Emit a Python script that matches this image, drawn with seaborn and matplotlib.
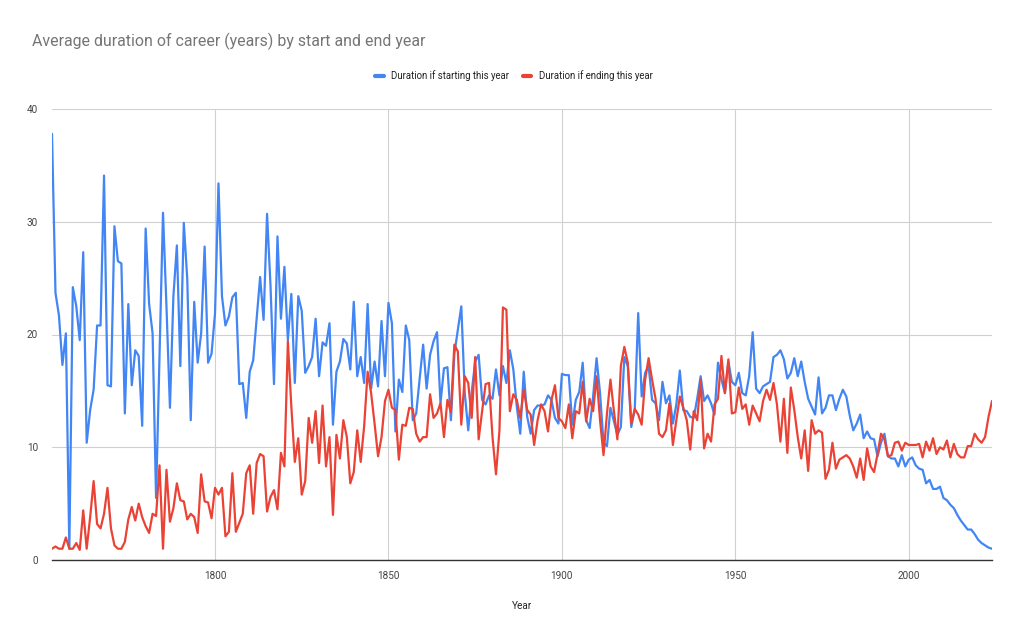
import matplotlib
matplotlib.use("Agg")
import matplotlib.pyplot as plt
import seaborn as sns
import pandas as pd

years = list(range(1753, 2025))

start_duration = [
    37.8, 23.7, 21.7, 17.3, 20.1, 1.0, 24.2, 22.5, 19.5, 27.3,
    10.4, 13.3, 15.1, 20.8, 20.8, 34.1, 15.5, 15.4, 29.6, 26.5,
    26.3, 13.0, 22.7, 15.5, 18.6, 18.1, 11.9, 29.4, 22.7, 20.1,
    5.5, 18.0, 30.8, 22.5, 13.5, 23.4, 27.9, 17.2, 29.9, 24.9,
    12.4, 22.9, 17.5, 20.1, 27.8, 17.5, 18.3, 21.9, 33.4, 23.4,
    20.8, 21.6, 23.3, 23.7, 15.6, 15.7, 12.6, 16.7, 17.7, 21.4,
    25.1, 21.3, 30.7, 24.3, 15.6, 28.7, 21.4, 26.0, 19.5, 23.6,
    15.7, 23.4, 22.1, 16.6, 17.2, 18.0, 21.4, 16.3, 19.3, 19.0,
    21.0, 12.0, 16.7, 17.6, 19.6, 19.2, 16.9, 22.9, 16.3, 18.0,
    15.7, 22.7, 15.2, 17.6, 15.4, 21.2, 16.3,
    22.8, 21.0, 11.4,
    16.0, 14.9, 20.8, 19.5, 12.4, 13.0, 16.1, 19.1, 15.2, 18.2,
    19.4, 20.2, 13.9, 17.0, 17.1, 12.4, 18.3, 20.4, 22.5, 14.8,
    11.5, 14.9, 17.6, 18.2, 14.2, 13.8, 14.6, 14.3, 16.9, 14.6,
    17.2, 15.7, 18.6, 16.9, 13.6, 11.2, 16.7, 12.7, 11.2, 13.3,
    13.7, 13.7, 13.8, 14.6, 14.2, 12.6, 12.1,
    16.5, 16.4, 16.4,
    12.0, 14.2, 14.9, 17.5, 12.4, 11.7, 14.5, 17.9, 14.8, 10.4,
    10.1, 13.5, 12.3, 11.1, 11.8, 18.0, 17.2, 11.8, 13.3, 21.9,
    14.5, 16.6, 17.2, 14.2, 13.9, 12.4, 15.8, 13.9, 14.6, 12.1,
    13.8, 16.8, 13.3, 13.2, 12.7, 12.6, 14.3, 16.3, 14.1, 14.6,
    13.9, 12.9, 17.5, 16.0, 14.8, 17.6, 15.8,
    15.5, 16.6, 14.8,
    14.6, 16.3, 20.2, 15.2, 14.8, 15.4, 15.6, 15.8, 18.0, 18.2,
    18.6, 17.8, 16.1, 16.6, 17.9, 16.3, 17.6, 15.8, 14.3, 13.6,
    12.9, 16.2, 13.0, 13.5, 14.6, 14.6, 13.3, 14.3, 15.1, 14.5,
    12.8, 11.5, 12.1, 12.9, 10.8, 11.4, 10.8, 10.7, 9.2, 10.4,
    11.2, 9.2, 9.0, 9.0, 8.3, 9.3, 8.3,
    8.9, 9.1, 8.4,
    8.1, 8.0, 6.8, 7.1, 6.3, 6.3, 6.5, 5.5, 5.3, 4.9,
    4.6, 4.0, 3.5, 3.1, 2.7, 2.7, 2.3, 1.8, 1.5, 1.3,
    1.1, 1.0,
]

end_duration = [
    1.0, 1.2, 1.0, 1.0, 2.0, 1.0, 1.0, 1.5, 0.9, 4.4,
    1.0, 3.8, 7.0, 3.2, 2.8, 4.1, 6.4, 2.8, 1.3, 1.0,
    1.0, 1.6, 3.6, 4.7, 3.5, 5.0, 3.8, 3.0, 2.4, 4.1,
    3.9, 8.4, 1.0, 8.0, 3.4, 4.6, 6.8, 5.3, 5.2, 3.6,
    4.1, 3.8, 2.4, 7.6, 5.2, 5.1, 3.7, 6.4, 5.8, 6.4,
    2.1, 2.5, 7.7, 2.5, 3.3, 4.1, 7.7, 8.4, 4.1, 8.6,
    9.4, 9.2, 4.3, 5.6, 6.2, 4.5, 9.5, 8.3, 19.4, 13.6,
    8.7, 10.8, 5.8, 7.0, 12.6, 10.4, 13.2, 8.6, 13.7, 8.3,
    10.9, 4.0, 11.1, 9.0, 12.4, 10.9, 6.8, 7.8, 11.5, 8.7,
    11.9, 16.7, 14.8, 12.1, 9.2, 10.9, 14.1,
    15.1, 13.5, 13.3,
    8.9, 12.0, 11.9, 13.5, 13.4, 11.2, 10.5, 10.9, 10.9, 14.7,
    12.6, 13.0, 13.9, 10.9, 14.2, 13.1, 19.1, 18.5, 12.0, 16.3,
    15.7, 12.6, 18.0, 10.7, 13.2, 15.6, 15.7, 10.9, 7.6, 11.5,
    22.4, 22.2, 13.2, 14.7, 14.2, 12.6, 15.1, 13.3, 12.9, 10.2,
    12.4, 13.8, 13.2, 11.4, 14.2, 15.5, 12.6,
    12.3, 11.7, 13.8,
    10.8, 13.2, 13.0, 15.8, 12.3, 14.3, 13.2, 16.3, 12.4, 9.3,
    13.0, 16.0, 13.2, 10.7, 17.2, 18.9, 17.5, 12.1, 13.4, 12.9,
    12.0, 16.0, 17.9, 16.0, 14.3, 11.2, 10.9, 11.5, 13.9, 10.2,
    12.4, 14.5, 13.5, 12.4, 9.8, 13.2, 12.4, 16.0, 9.9, 11.2,
    10.5, 13.8, 14.3, 18.1, 14.8, 17.8, 13.0,
    13.1, 15.3, 13.4,
    13.8, 12.0, 13.7, 13.0, 12.3, 14.1, 15.1, 14.2, 15.7, 13.8,
    10.5, 14.3, 9.5, 15.3, 13.3, 10.9, 9.0, 11.5, 7.9, 12.4,
    11.2, 11.5, 11.3, 7.2, 8.0, 10.4, 8.1, 8.9, 9.1, 9.3,
    9.0, 8.3, 7.3, 9.0, 7.1, 9.9, 8.3, 7.8, 9.4, 11.2,
    10.7, 9.2, 9.3, 10.4, 10.5, 9.7, 10.4,
    10.2, 10.2, 10.2,
    10.3, 9.1, 10.5, 9.7, 10.8, 9.4, 10.0, 9.8, 10.6, 9.1,
    10.3, 9.4, 9.1, 9.1, 10.1, 10.1, 11.2, 10.7, 10.4, 10.9,
    12.7, 14.1,
]

series_names = ["Duration if starting this year", "Duration if ending this year"]
colors = ["#4285F4", "#EA4335"]
x_ticks = [1800, 1850, 1900, 1950, 2000]
y_ticks = [0, 10, 20, 30, 40]

df = pd.DataFrame({
    "Year": years + years,
    "Duration": start_duration + end_duration,
    "Series": [series_names[0]] * len(years) + [series_names[1]] * len(years),
})

sns.set_theme(style="white")
plt.rcParams["font.family"] = ["Roboto", "DejaVu Sans"]

fig = plt.figure(figsize=(10.24, 6.33), dpi=100)
ax = fig.add_axes([52 / 1024, 1 - 560 / 633, (992 - 52) / 1024, (560 - 109) / 633])

sns.lineplot(data=df, x="Year", y="Duration", hue="Series", hue_order=series_names,
             palette=colors, linewidth=1.6, ax=ax, zorder=3)

ax.set_xlim(years[0], years[-1])
ax.set_ylim(0, 40)
ax.set_xticks(x_ticks)
ax.set_yticks(y_ticks)
ax.grid(True, color="#d0d0d0", linewidth=0.8)
ax.set_axisbelow(True)
for s in ["top", "right", "left"]:
    ax.spines[s].set_visible(False)
ax.spines["bottom"].set_color("#333333")
ax.spines["bottom"].set_linewidth(1.0)
ax.spines["bottom"].set_zorder(4)
ax.tick_params(axis="both", length=0, labelsize=7.2, labelcolor="#444444")
ax.tick_params(axis="x", pad=8)
ax.tick_params(axis="y", pad=10)
ax.set_xlabel("Year", fontsize=7.2, color="#222222", labelpad=14)
ax.set_ylabel("")

handles, labels = ax.get_legend_handles_labels()
leg = ax.legend(handles, labels, loc="center", bbox_to_anchor=(514 / 1024, 1 - 76 / 633),
                bbox_transform=fig.transFigure, ncol=2, frameon=False,
                handlelength=0.9, handletextpad=0.8, columnspacing=1.4,
                fontsize=6.9, labelcolor="#222222")
for ln in leg.get_lines():
    ln.set_linewidth(3.0)
    ln.set_solid_capstyle("round")

fig.text(32 / 1024, 1 - 41 / 633, "Average duration of career (years) by start and end year",
         fontsize=11.45, color="#757575", va="center", ha="left")

fig.savefig("out.png", dpi=100, facecolor="white")
